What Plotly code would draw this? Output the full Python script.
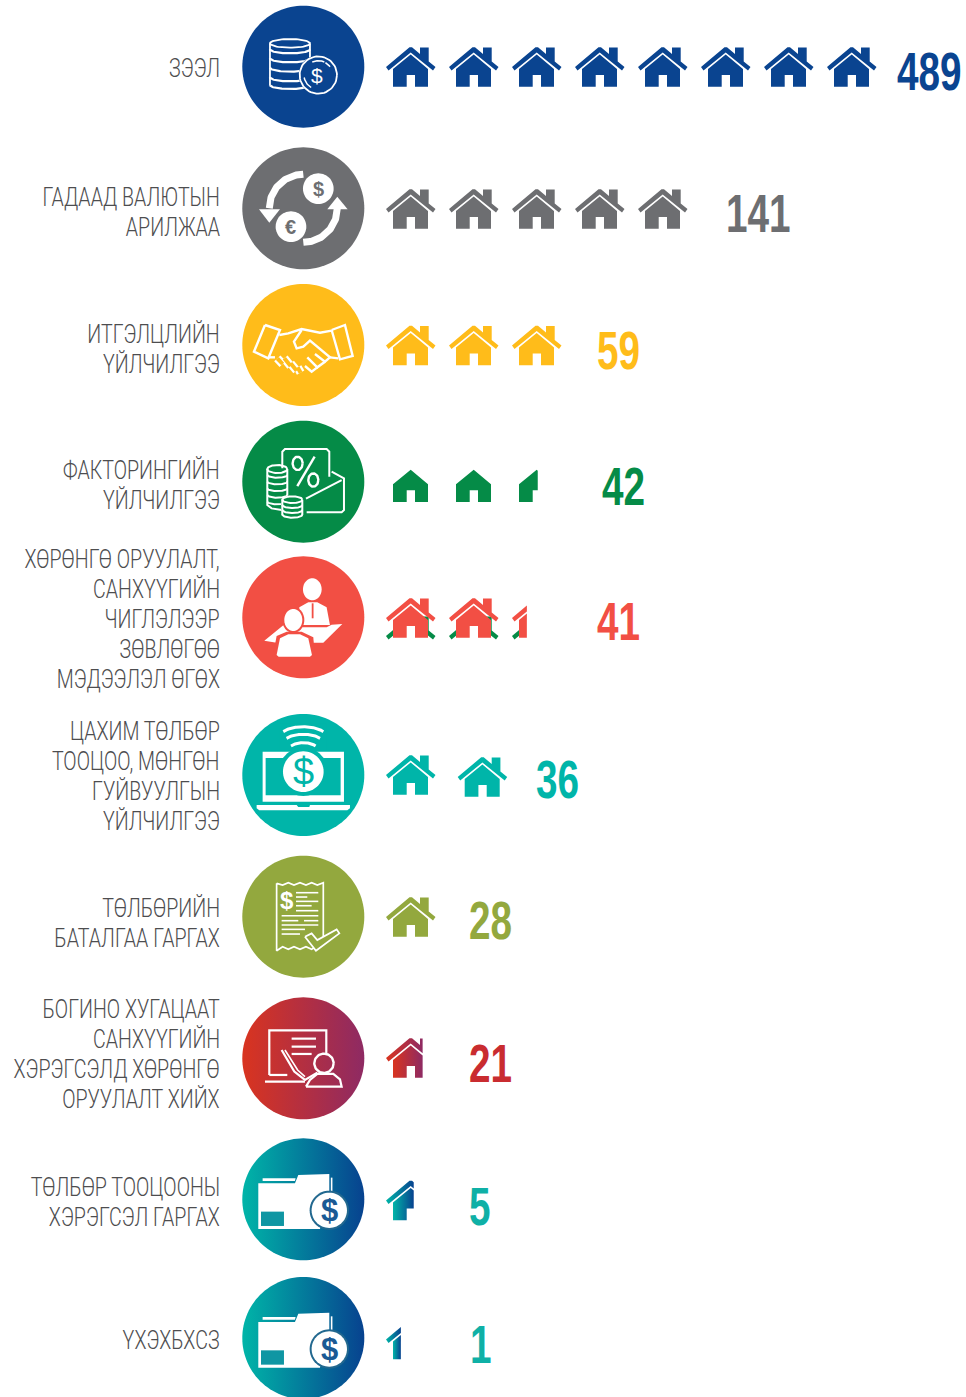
import math
import plotly.graph_objects as go

# ---------- data ----------
CATEGORIES = [
    "ЗЭЭЛ",
    "ГАДААД ВАЛЮТЫН\nАРИЛЖАА",
    "ИТГЭЛЦЛИЙН\nҮЙЛЧИЛГЭЭ",
    "ФАКТОРИНГИЙН\nҮЙЛЧИЛГЭЭ",
    "ХӨРӨНГӨ ОРУУЛАЛТ,\nСАНХҮҮГИЙН\nЧИГЛЭЛЭЭР\nЗӨВЛӨГӨӨ\nМЭДЭЭЛЭЛ ӨГӨХ",
    "ЦАХИМ ТӨЛБӨР\nТООЦОО, МӨНГӨН\nГУЙВУУЛГЫН\nҮЙЛЧИЛГЭЭ",
    "ТӨЛБӨРИЙН\nБАТАЛГАА ГАРГАХ",
    "БОГИНО ХУГАЦААТ\nСАНХҮҮГИЙН\nХЭРЭГСЭЛД ХӨРӨНГӨ\nОРУУЛАЛТ ХИЙХ",
    "ТӨЛБӨР ТООЦООНЫ\nХЭРЭГСЭЛ ГАРГАХ",
    "ҮХЭХБХСЗ",
]
VALUES = [489, 141, 59, 42, 41, 36, 28, 21, 5, 1]
HOUSE_COUNTS = [8, 5, 3, 2.52, 2.3, 2, 1, 0.74, 0.56, 0.3]

# ---------- layout / style ----------
W, H = 966, 1397
CX, R = 303.3, 61
ROW_Y = [66.7, 208.3, 345, 481.7, 617.3, 775, 916.7, 1058.3, 1199.3, 1338]
LABEL_Y = [68.5, 212.5, 349.5, 485.5, 619.5, 776.5, 923.5, 1054.5, 1202.5, 1340.5]
HOUSE_TOP = [47, 189, 325.5, 462.3, 598, 755, 897, 1038, 1180.5, 1319.5]
VALUE_X = [896, 725, 596, 601, 596, 535, 468, 468, 468, 469]
VALUE_Y = [71, 213, 350, 486, 621, 779, 920, 1063, 1206, 1344]
COLORS = ["#0A4490", "#6D6E71", "#FFBC1A", "#058B47", "#F24F44", "#00B5A9", "#93A83E",
          None, None, None]
VALUE_COLORS = COLORS[:7] + ["#C92C30", "#0FB0A6", "#0FB0A6"]
G_RED = ["#D9341F", "#8E2A63"]
G_BLUE = ["#00B5A8", "#07428F"]
GRADS = [None] * 7 + [G_RED, G_BLUE, G_BLUE]
LABEL_FONT = "Roboto, Liberation Sans, sans-serif"
LABEL_SIZE, VALUE_SIZE = 25, 53
LABEL_SQUEEZE, VALUE_SQUEEZE = 0.785, 0.73
HOUSE_PITCH, HOUSE_X0, HOUSE_W = 63, 386, 49.5

ROOF = [(0, 20), (23.5, .3), (26, .3), (34, 7), (34, .5), (42.7, .5), (42.7, 14.5), (49.5, 20),
        (47, 23.5), (24.7, 5.5), (2.5, 23.5)]
BODY = [(24.7, 7.5), (7, 22), (7, 39.7), (20.7, 39.7), (20.7, 28), (29, 28), (29, 39.7), (42, 39.7),
        (42, 22)]

fig = go.Figure()
annotations = []


def poly(pts, color=None, grad=None):
    xs = [p[0] for p in pts] + [pts[0][0]]
    ys = [p[1] for p in pts] + [pts[0][1]]
    kw = dict(x=xs, y=ys, mode="none", fill="toself", hoverinfo="skip", showlegend=False)
    if grad:
        kw["fillgradient"] = dict(type="horizontal", colorscale=[[0, grad[0]], [1, grad[1]]])
    else:
        kw["fillcolor"] = color
    fig.add_trace(go.Scatter(**kw))


def stroke(pts, color="#FFFFFF", w=1.6, closed=False):
    pts = list(pts) + ([pts[0]] if closed else [])
    fig.add_trace(go.Scatter(x=[p[0] for p in pts], y=[p[1] for p in pts], mode="lines",
                             line=dict(color=color, width=w), hoverinfo="skip", showlegend=False))


def ell(x, y, rx, ry=None, a0=0, a1=360, n=60):
    ry = rx if ry is None else ry
    return [(x + rx * math.cos(math.radians(a0 + (a1 - a0) * i / n)),
             y + ry * math.sin(math.radians(a0 + (a1 - a0) * i / n))) for i in range(n + 1)]


def text(x, y, s, color, size, bold=True, family="Liberation Sans", anchor="center", weight=None):
    f = dict(color=color, size=size, family=family)
    if weight:
        f["weight"] = weight
    annotations.append(dict(x=x, y=y, xref="x", yref="y", text=f"<b>{s}</b>" if bold else s,
                            showarrow=False, xanchor=anchor, yanchor="middle", borderpad=0,
                            font=f))


def clip(pts, xmax=None, xmin=None):
    def side(points, inside, cross):
        out = []
        for i, a in enumerate(points):
            b = points[(i + 1) % len(points)]
            if inside(a):
                out.append(a)
            if inside(a) != inside(b):
                t = (cross - a[0]) / (b[0] - a[0])
                out.append((cross, a[1] + t * (b[1] - a[1])))
        return out
    if xmax is not None:
        pts = side(pts, lambda p: p[0] <= xmax, xmax)
    if xmin is not None and pts:
        pts = side(pts, lambda p: p[0] >= xmin, xmin)
    return pts


def house(x, y, frac, color, grad, roof=True):
    lim = frac * HOUSE_W
    for shape, on in ((ROOF, roof), (BODY, True)):
        if not on:
            continue
        pts = clip(shape, xmax=lim)
        if pts:
            poly([(x + a, y + b) for a, b in pts], color, grad)


class Z:
    """Icon drawing space: 3x crop pixels around a circle centre."""
    def __init__(self, cy, zx, zy):
        self.cy, self.zx, self.zy = cy, zx, zy

    def __call__(self, pts):
        return [(CX + (a - self.zx) / 3, self.cy + (b - self.zy) / 3) for a, b in pts]

    def p(self, a, b):
        return self([(a, b)])[0]


def icon_coins(cy, bg):
    z = Z(cy, 220, 200)
    stroke(z(ell(180, 130, 60, 13)), w=1.8)
    stroke(z([(120, 130), (120, 255)]), w=1.8)
    stroke(z([(240, 130), (240, 190)]), w=1.8)
    for yy in (148, 175, 203, 232, 255):
        stroke(z(ell(180, yy, 60, 12, 0, 180)), w=2.2)
    poly(z(ell(265, 225, 59)), bg)
    stroke(z(ell(265, 225, 56)), w=1.8)
    stroke(z(ell(265, 225, 43, 43, 245, 295)), w=1.5)
    stroke(z(ell(265, 225, 43, 43, 120, 170)), w=1.5)
    stroke(z(ell(265, 225, 43, 43, -60, -35)), w=1.5)
    x, y = z.p(262, 225)
    text(x, y, "$", "#FFFFFF", 21, bold=False)


def icon_exchange(cy, bg):
    z = Z(cy, 220, 625)
    stroke(z(ell(220, 625, 102, 102, 180, 270)), w=7)
    stroke(z(ell(220, 625, 102, 102, 0, 90)), w=7)
    poly(z([(87, 628), (150, 628), (118, 668)]), "#FFFFFF")
    poly(z([(292, 628), (353, 628), (322, 590)]), "#FFFFFF")
    poly(z(ell(265, 566, 46)), "#FFFFFF")
    poly(z(ell(183, 680, 46)), "#FFFFFF")
    x, y = z.p(265, 566)
    text(x, y, "$", bg, 20)
    x, y = z.p(183, 680)
    text(x, y, "€", bg, 20)


def icon_hands(cy, bg):
    z = Z(cy, 220, 195)
    stroke(z([(105, 135), (150, 150), (115, 235), (72, 215)]), w=2.4, closed=True)
    stroke(z([(305, 150), (345, 135), (368, 228), (330, 238)]), w=2.4, closed=True)
    stroke(z([(148, 165), (175, 160), (215, 147), (240, 152), (270, 158), (305, 152)]), w=2.4)
    stroke(z([(215, 150), (192, 185), (200, 205), (220, 200), (240, 182), (300, 232), (285, 245),
              (255, 222)]), w=2.4)
    stroke(z([(115, 232), (135, 232)]), w=2.4)
    stroke(z([(285, 245), (262, 262), (232, 232)]), w=2.4)
    stroke(z([(262, 262), (245, 275), (225, 258)]), w=2.4)
    stroke(z([(325, 235), (300, 232)]), w=2.4)
    fingers = (((142, 235), (158, 252)), ((163, 235), (182, 258)), ((182, 250), (200, 272)),
               ((203, 262), (212, 278)))
    for a, b in fingers:
        stroke(z([a, b]), w=8.5)
    for a, b in fingers:
        stroke(z([a, b]), bg, w=4)


def icon_percent(cy, bg):
    z = Z(cy, 220, 605)
    stroke(z([(157, 575), (157, 515), (165, 507), (290, 507), (298, 515), (298, 590)]), w=2)
    stroke(z([(202, 618), (254, 530)]), w=2.4)
    stroke(z(ell(203, 550, 15, 20)), w=2.4)
    stroke(z(ell(250, 600, 15, 20)), w=2.4)
    stroke(z([(305, 575), (342, 595), (342, 690), (335, 697), (230, 697)]), w=2)
    stroke(z([(228, 656), (335, 600)]), w=2)
    poly(z([(112, 565), (172, 565), (172, 690), (112, 690)]), bg)
    stroke(z(ell(142, 567, 30, 12)), w=2)
    stroke(z([(112, 567), (112, 675), (125, 685), (155, 690)]), w=2)
    stroke(z([(172, 567), (172, 650)]), w=2)
    for yy in (585, 605, 625, 645, 665):
        stroke(z(ell(142, yy, 30, 8, 0, 180)), w=2)
    poly(z(ell(187, 680, 34, 36)), bg)
    stroke(z(ell(187, 659, 30, 10)), w=2)
    stroke(z([(157, 659), (157, 705)]), w=2)
    stroke(z([(217, 659), (217, 705)]), w=2)
    for yy in (675, 690, 704):
        stroke(z(ell(187, yy, 30, 9, 0, 180)), w=2)


def icon_people(cy, bg):
    z = Z(cy, 220, 202)
    poly(z(ell(247, 118, 28, 33)), "#FFFFFF")
    poly(z([(208, 172), (235, 157), (262, 157), (290, 172), (300, 225), (210, 225)]), "#FFFFFF")
    stroke(z([(248, 160), (248, 205)]), bg, w=1.8)
    poly(z([(103, 272), (160, 226), (210, 232), (290, 232), (305, 224), (337, 222), (280, 278),
            (240, 278), (140, 278)]), "#FFFFFF")
    poly(z(ell(190, 210, 33, 39)), bg)
    poly(z([(128, 320), (140, 258), (170, 245), (215, 245), (250, 262), (255, 325)]), bg)
    poly(z(ell(190, 210, 27, 33)), "#FFFFFF")
    poly(z([(140, 315), (150, 265), (175, 253), (210, 253), (235, 265), (246, 315), (240, 320),
            (146, 320)]), "#FFFFFF")


def icon_laptop(cy, bg):
    z = Z(cy, 220, 675)
    poly(z([(98, 605), (342, 605), (342, 755), (98, 755)]), "#FFFFFF")
    poly(z([(107, 624), (332, 624), (332, 736), (107, 736)]), bg)
    poly(z([(80, 765), (200, 765), (205, 771), (238, 771), (240, 765), (360, 765), (360, 775),
            (352, 781), (88, 781), (80, 775)]), "#FFFFFF")
    poly(z(ell(220, 665, 73)), bg)
    poly(z(ell(220, 665, 61)), "#FFFFFF")
    poly(z([(150, 600), (150, 520), (290, 520), (290, 600)]), bg)
    stroke(z(ell(220, 561, 70, 31, 211, 329)), w=3)
    stroke(z(ell(220, 577, 58, 24, 210, 330)), w=3)
    stroke(z(ell(220, 600, 44, 22, 213, 327)), w=3)
    x, y = z.p(220, 665)
    text(x, y, "$", bg, 38, bold=False)


def icon_receipt(cy, bg):
    z = Z(cy, 220, 200)
    top = [(140, 100), (158, 105), (175, 98), (192, 105), (210, 98), (228, 105), (245, 98),
           (262, 105), (280, 98)]
    bot = [(280, 270), (262, 287), (245, 298), (228, 290), (210, 298), (192, 290), (175, 298),
           (158, 290), (140, 302)]
    stroke(z(top + bot), w=1.7, closed=True)
    for (a, b, c) in [(198, 265, 128), (198, 232, 141), (198, 265, 154), (198, 245, 167),
                      (198, 265, 182), (155, 265, 197), (155, 205, 212), (222, 265, 212),
                      (155, 265, 225), (155, 225, 238), (155, 210, 252)]:
        stroke(z([(a, c), (b, c)]), w=1.6)
    x, y = z.p(170, 152)
    text(x, y, "$", "#FFFFFF", 24)
    mark = [(225, 260), (245, 250), (262, 270), (320, 238), (328, 250), (258, 302)]
    poly(z(mark), bg)
    stroke(z(mark), w=1.8, closed=True)


def icon_teacher(cy):
    z = Z(cy, 220, 625)
    stroke(z([(118, 675), (118, 541), (289, 541), (289, 610)]), w=2.2)
    stroke(z([(118, 675), (172, 675)]), w=2.2)
    stroke(z([(185, 566), (258, 566)]), w=2.2)
    stroke(z([(185, 590), (258, 590)]), w=2.2)
    stroke(z([(185, 612), (245, 612)]), w=2.2)
    stroke(z([(105, 695), (225, 695)]), w=2.2)
    stroke(z([(155, 600), (193, 665), (225, 690), (262, 668)]), w=2.2)
    stroke(z([(165, 600), (203, 660), (225, 680)]), w=1.6)
    stroke(z(ell(282, 640, 29)), w=2.4)
    stroke(z([(228, 710), (335, 710), (330, 688), (310, 672), (262, 672), (240, 690), (228, 710)]), w=2.2)


def icon_folder(cy):
    z = Z(cy, 220, 208)
    poly(z([(85, 160), (195, 160), (205, 135), (298, 132), (298, 190), (270, 297), (85, 297)]), "#FFFFFF")
    poly(z([(98, 145), (197, 145), (195, 153), (98, 153)]), "#FFFFFF")
    stroke(z([(305, 143), (305, 185)]), w=1.6)
    poly(z(ell(298, 241, 59)), "#22688F")
    poly(z(ell(298, 241, 53)), "#FFFFFF")
    poly(z([(93, 245), (162, 245), (162, 288), (93, 288)]), "#0F96A3")
    x, y = z.p(298, 242)
    text(x, y, "$", "#1A5A94", 31)


ICONS = [icon_coins, icon_exchange, icon_hands, icon_percent, icon_people, icon_laptop, icon_receipt]

for i, (cat, val, count) in enumerate(zip(CATEGORIES, VALUES, HOUSE_COUNTS)):
    cy, col, grad = ROW_Y[i], COLORS[i], GRADS[i]
    # badge
    poly(ell(CX, cy, R, n=120), col, grad)
    if i < 7:
        ICONS[i](cy, col)
    elif i == 7:
        icon_teacher(cy)
    else:
        icon_folder(cy)
    # label lines
    lines = cat.split("\n")
    for j, ln in enumerate(lines):
        text(221, LABEL_Y[i] + (j - (len(lines) - 1) / 2) * 29.8, ln, "#4D4D4F", LABEL_SIZE,
             bold=False, family=LABEL_FONT, anchor="right", weight=300)
    # houses
    k = 0
    remaining = count
    while remaining > 0:
        frac = min(1, remaining)
        x = HOUSE_X0 + k * HOUSE_PITCH
        y = HOUSE_TOP[i]
        if i == 5 and k == 1:
            x, y = x + 8.7, y + 2
        if i == 4:  # misregistered green roof showing beneath the red house
            lim = frac * HOUSE_W
            for part in (clip(ROOF, xmax=min(lim, 8)), clip(ROOF, xmax=lim, xmin=41), clip(ROOF, xmax=min(lim, 41), xmin=34)):
                if part:
                    poly([(x + a, y + 18 + b) for a, b in part], "#058B47")
        house(x, y, frac, col, grad, roof=(i != 3))
        remaining -= 1
        k += 1
    # value
    text(VALUE_X[i], VALUE_Y[i], str(val), VALUE_COLORS[i], VALUE_SIZE, family="Liberation Sans", anchor="left")

fig.update_layout(
    width=W, height=H, margin=dict(l=0, r=0, t=0, b=0), autosize=False,
    paper_bgcolor="#FFFFFF", plot_bgcolor="#FFFFFF", showlegend=False,
    xaxis=dict(range=[0, W], visible=False, fixedrange=True),
    yaxis=dict(range=[H, 0], visible=False, fixedrange=True),
    annotations=annotations,
)

POST = """
document.body.style.margin='0';document.body.style.overflow='hidden';
function squeeze(){document.querySelectorAll('text.annotation-text').forEach(function(t){
  var fs=parseFloat(t.style.fontSize), b=t.getBBox(), f=null, ax=0;
  if(fs===%d){f=%f;ax=b.x+b.width;} else if(fs===%d){f=%f;ax=b.x;}
  if(f){t.setAttribute('transform','translate('+ax+',0) scale('+f+',1) translate('+(-ax)+',0)');}
});}
squeeze();setTimeout(squeeze,60);
""" % (LABEL_SIZE, LABEL_SQUEEZE, VALUE_SIZE, VALUE_SQUEEZE)

fig.write_html("out.html", config={"displayModeBar": False}, post_script=POST)
